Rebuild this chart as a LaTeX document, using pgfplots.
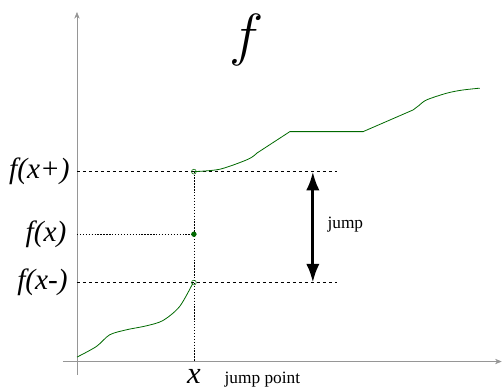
\documentclass[border=0pt]{standalone}
\usepackage{fontspec}
\setmainfont{Liberation Serif}
\usepackage{pgfplots}
\pgfplotsset{compat=1.18}
\usetikzlibrary{arrows.meta}
\definecolor{fgreen}{RGB}{0,105,0}
\definecolor{axgray}{RGB}{150,150,150}
\begin{document}
\begin{tikzpicture}
\begin{axis}[x=0.75pt, y=0.75pt, xmin=-77, xmax=425, ymin=-26.3, ymax=361.7,
  hide axis, clip=false]
% axes
\draw[axgray, thin, -{Stealth[length=5pt,width=4pt]}] (axis cs:-14,0) -- (axis cs:425,0);
\draw[axgray, thin, -{Stealth[length=5pt,width=4pt]}] (axis cs:0,-13.3) -- (axis cs:0,349.7);
% guide lines
\addplot[black, thin, dash pattern=on 2.5pt off 2pt] coordinates {(0,190)(260,190)};
\addplot[black, thin, dash pattern=on 2.5pt off 2pt] coordinates {(0,79)(260,79)};
\addplot[black, very thin, dash pattern=on 1pt off 1.2pt] coordinates {(0,127.4)(117,127.4)};
\addplot[black, very thin, dash pattern=on 1pt off 1.2pt] coordinates {(117,190)(117,0)};
% function, left of the jump
\addplot[fgreen, semithick, smooth, tension=0.5] coordinates {
  (0,4.4)(19.4,15)(32.7,26.7)(49.4,31.7)(69.4,35.7)(86,41)(102.7,55)(116,78.4)};
% function, right of the jump
\addplot[fgreen, semithick, smooth, tension=0.5] coordinates {
  (117,190)(143,192.4)(171.3,202.4)(180,208.5)};
\addplot[fgreen, semithick] coordinates {(180,208.5)(213,230)(286.3,230)(336.3,251.7)};
\addplot[fgreen, semithick, smooth, tension=0.5] coordinates {
  (336.3,251.7)(342,256)(349.7,261.7)(369.7,268.4)(385,271.5)(403,273.5)};
% points
\addplot[fgreen, only marks, mark=*, mark size=1.8pt] coordinates {(117,127.4)};
\addplot[fgreen, only marks, mark=o, mark size=1.8pt, mark options={fill=white, thin}]
  coordinates {(117,190)(117,79)};
% jump arrow
\draw[black, line width=2.2pt, {Latex[length=14pt,width=10pt]}-{Latex[length=14pt,width=10pt]}]
  (axis cs:236,190) -- (axis cs:236,79);
\node[anchor=west, font=\fontsize{13}{15}\selectfont] at (axis cs:246,136.7) {jump};
% labels
\node[anchor=east, inner sep=0pt, font=\fontsize{22}{26}\selectfont\itshape] at (axis cs:-7,190) {f(x+)};
\node[anchor=east, inner sep=0pt, font=\fontsize{22}{26}\selectfont\itshape] at (axis cs:-10.3,127.4) {f(x)};
\node[anchor=east, inner sep=0pt, font=\fontsize{22}{26}\selectfont\itshape] at (axis cs:-9,79) {f(x-)};
\node[font=\fontsize{23}{27}\selectfont\itshape] at (axis cs:117,-15) {x};
\node[anchor=west, font=\fontsize{13}{15}\selectfont] at (axis cs:143,-18) {jump point};
\node[font=\Huge, scale=1.75] at (axis cs:170,322) {$f$};
\path (axis cs:-77,-26.3) rectangle (axis cs:425,361.7);
\end{axis}
\end{tikzpicture}
\end{document}
